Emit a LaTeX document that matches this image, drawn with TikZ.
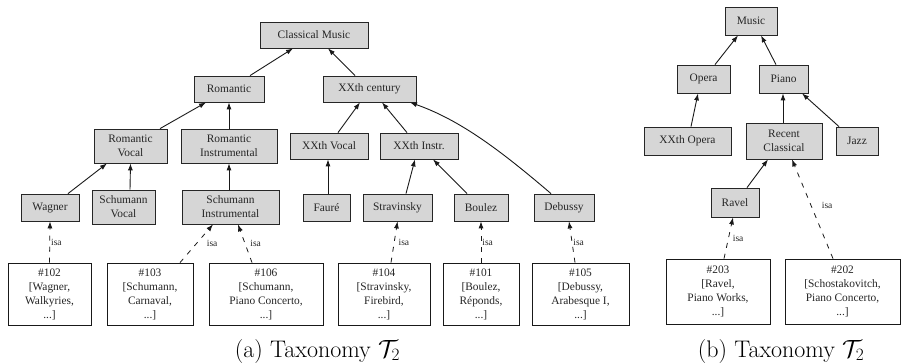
\documentclass[tikz,border=0pt]{standalone}
\usepackage{fontspec}
\newfontfamily\tms{Liberation Serif}
\usetikzlibrary{arrows.meta,calc}
\tikzset{
  cat/.style={draw=black!85, fill=gray!32, line width=0.8pt, inner sep=0pt, align=center,
    text=black!85, font=\tms\fontsize{11.4}{14}\selectfont},
  inst/.style={draw=black!90, fill=white, line width=0.8pt, inner sep=0pt, align=center,
    text=black!85, font=\tms\fontsize{11.4}{14}\selectfont},
  arr/.style={line width=0.9pt, draw=black!90, -{Latex[length=7pt,width=5pt]}},
  isa/.style={line width=0.8pt, draw=black!90, dash pattern=on 5pt off 6pt, -{Latex[length=7pt,width=5pt]}},
  isalbl/.style={midway, anchor=west, inner sep=1pt, text=black!85, font=\tms\fontsize{9.5}{11}\selectfont},
  capt/.style={anchor=base, inner sep=0pt, font=\fontsize{24}{28}\selectfont}
}
\begin{document}
\begin{tikzpicture}[x=1pt,y=-1pt]
\useasboundingbox (0,0) rectangle (902,363);
% ---------- (a) ----------
\node[cat, minimum width=108, minimum height=26] (cm) at (314,35) {Classical Music};
\node[cat, minimum width=70, minimum height=26] (rom) at (229,89) {Romantic};
\node[cat, minimum width=93, minimum height=26] (xc) at (369.5,89) {XXth century};
\node[cat, minimum width=73, minimum height=34] (rv) at (130.5,146) {Romantic\\Vocal};
\node[cat, minimum width=96, minimum height=34] (ri) at (229,146) {Romantic\\Instrumental};
\node[cat, minimum width=78, minimum height=26] (xv) at (329,146) {XXth Vocal};
\node[cat, minimum width=78, minimum height=26] (xi) at (419,146) {XXth Instr.};
\node[cat, minimum width=58, minimum height=27] (wag) at (50,207.5) {Wagner};
\node[cat, minimum width=63, minimum height=34] (sv) at (123.5,207) {Schumann\\Vocal};
\node[cat, minimum width=97, minimum height=34] (si) at (230.5,207) {Schumann\\Instrumental};
\node[cat, minimum width=47, minimum height=27] (fau) at (326.5,207.5) {Fauré};
\node[cat, minimum width=69, minimum height=27] (str) at (397.5,207.5) {Stravinsky};
\node[cat, minimum width=54, minimum height=27] (bou) at (481,207.5) {Boulez};
\node[cat, minimum width=60, minimum height=27] (deb) at (564,207.5) {Debussy};

\node[inst, minimum width=83, minimum height=62] (i102) at (49.5,294) {\#102\\{}[Wagner,\\Walkyries,\\...]};
\node[inst, minimum width=86, minimum height=62] (i103) at (150,294) {\#103\\{}[Schumann,\\Carnaval,\\...]};
\node[inst, minimum width=114, minimum height=62] (i106) at (266,294) {\#106\\{}[Schumann,\\Piano Concerto,\\...]};
\node[inst, minimum width=92, minimum height=62] (i104) at (384,294) {\#104\\{}[Stravinsky,\\Firebird,\\...]};
\node[inst, minimum width=76, minimum height=62] (i101) at (481,294) {\#101\\{}[Boulez,\\Réponds,\\...]};
\node[inst, minimum width=97, minimum height=62] (i105) at (580.5,294) {\#105\\{}[Debussy,\\Arabesque I,\\...]};

\draw[arr] ([xshift=21pt]rom.north) -- ([xshift=-21pt]cm.south);
\draw[arr] ([xshift=-14.5pt]xc.north) -- ([xshift=14pt]cm.south);
\draw[arr] ([xshift=29.5pt]rv.north) -- ([xshift=-23pt]rom.south);
\draw[arr] (ri.north) -- (rom.south);
\draw[arr] ([xshift=9pt]xv.north) -- ([xshift=-9.5pt]xc.south);
\draw[arr] ([xshift=-12pt]xi.north) -- ([xshift=12.5pt]xc.south);
\draw[arr] ([xshift=-13pt]deb.north) .. controls (500,150) and (460,120) .. ([xshift=40.5pt]xc.south);
\draw[arr] ([xshift=18pt]wag.north) -- ([xshift=-23.5pt]rv.south);
\draw[arr] ([xshift=6.5pt]sv.north) -- (rv.south);
\draw[arr] ([xshift=-1.5pt]si.north) -- (ri.south);
\draw[arr] ([xshift=1.5pt]fau.north) -- ([xshift=-1pt]xv.south);
\draw[arr] ([xshift=8.5pt]str.north) -- ([xshift=-4pt]xi.south);
\draw[arr] ([xshift=-14pt]bou.north) -- ([xshift=14pt]xi.south);

\draw[isa] (i102.north) -- (wag.south) node[isalbl] {isa};
\draw[isa] ([xshift=30pt]i103.north) -- ([xshift=-17.5pt]si.south) node[isalbl, xshift=9pt] {isa};
\draw[isa] ([xshift=-14pt]i106.north) -- ([xshift=7.5pt]si.south) node[isalbl, xshift=4pt] {isa};
\draw[isa] ([xshift=7pt]i104.north) -- (str.south) node[isalbl, xshift=3pt] {isa};
\draw[isa] (i101.north) -- (bou.south) node[isalbl] {isa};
\draw[isa] ([xshift=-5.5pt]i105.north) -- ([xshift=5pt]deb.south) node[isalbl] {isa};

\node[capt] (capa) at (317.5,357) {(a) Taxonomy $\mathcal{T}_2$};

% ---------- (b) ----------
\node[cat, minimum width=52, minimum height=28] (mus) at (751,21) {Music};
\node[cat, minimum width=53, minimum height=28] (ope) at (703.5,79) {Opera};
\node[cat, minimum width=49, minimum height=28] (pia) at (783.5,79) {Piano};
\node[cat, minimum width=87, minimum height=28] (xo) at (687.5,141) {XXth Opera};
\node[cat, minimum width=76, minimum height=36] (rc) at (784,141) {Recent\\Classical};
\node[cat, minimum width=42, minimum height=28] (jaz) at (857,141) {Jazz};
\node[cat, minimum width=48, minimum height=29] (rav) at (735,202.5) {Ravel};

\node[inst, minimum width=104, minimum height=65] (i203) at (718,291.5) {\#203\\{}[Ravel,\\Piano Works,\\...]};
\node[inst, minimum width=115, minimum height=65] (i202) at (842.5,291.5) {\#202\\{}[Schostakovitch,\\Piano Concerto,\\...]};

\draw[arr] ([xshift=11.5pt]ope.north) -- ([xshift=-13pt]mus.south);
\draw[arr] ([xshift=-7.5pt]pia.north) -- ([xshift=10pt]mus.south);
\draw[arr] ([xshift=3.5pt]xo.north) -- ([xshift=-5.5pt]ope.south);
\draw[arr] ([xshift=-1pt]rc.north) -- ([xshift=-0.5pt]pia.south);
\draw[arr] ([xshift=-18pt]jaz.north) -- ([xshift=18.5pt]pia.south);
\draw[arr] ([xshift=12pt]rav.north) -- ([xshift=-16pt]rc.south);

\draw[isa] ([xshift=6pt]i203.north) -- ([xshift=-2pt]rav.south) node[isalbl, xshift=3pt] {isa};
\draw[isa] ([xshift=-9.5pt]i202.north) -- ([xshift=8pt]rc.south) node[isalbl, xshift=8pt, yshift=4pt] {isa};

\node[capt] (capb) at (781,357) {(b) Taxonomy $\mathcal{T}_2$};
\end{tikzpicture}
\end{document}
